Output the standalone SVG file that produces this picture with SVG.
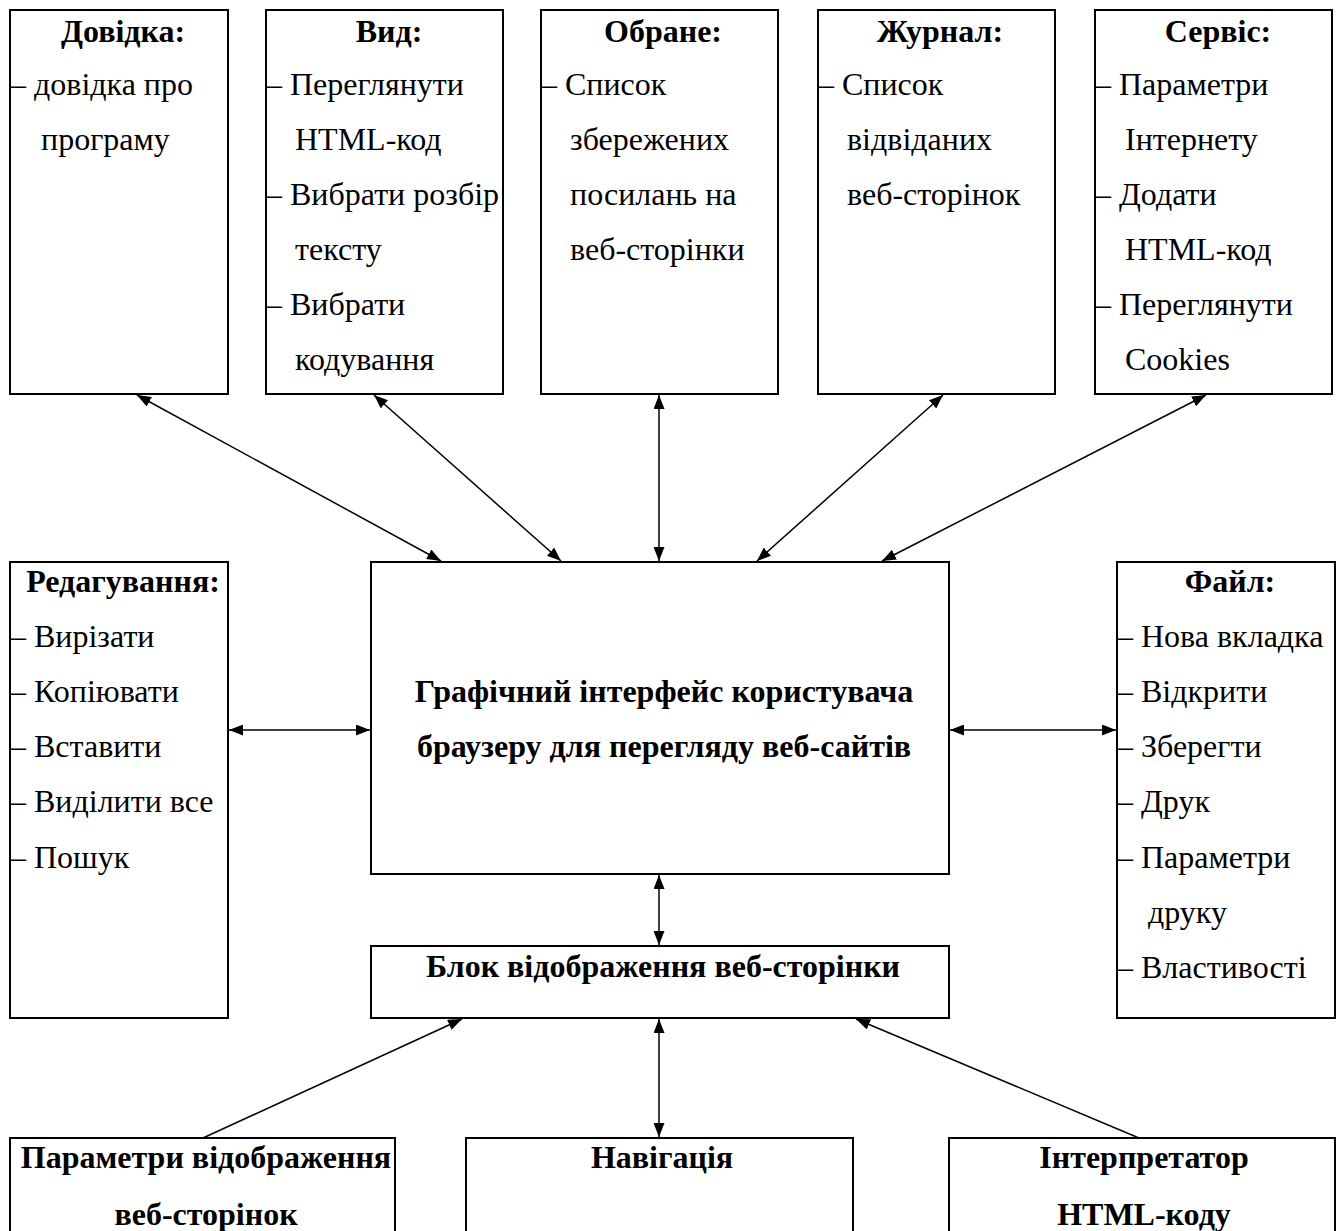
<svg xmlns="http://www.w3.org/2000/svg" width="1338" height="1231" viewBox="0 0 1338 1231">
<style>
.box{fill:#fff;stroke:#000;stroke-width:2}
.t{font-family:"Liberation Serif","Times New Roman",serif;font-size:32px;fill:#000}
.b{font-weight:bold;text-anchor:middle}
.c{stroke:#000;stroke-width:1.5;fill:none}
</style>
<defs>
<marker id="ah" viewBox="0 0 14 11" refX="14" refY="5.5" markerWidth="14" markerHeight="11" markerUnits="userSpaceOnUse" orient="auto-start-reverse">
<path d="M0,0 L14,5.5 L0,11 z" fill="#000"/>
</marker>
</defs>
<rect width="1338" height="1231" fill="#fff"/>

<g id="dovidka">
<rect class="box" x="10" y="10" width="218" height="384"/>
<text class="t b" x="123" y="42">Довідка:</text>
<text class="t" x="10" y="95">– довідка про</text>
<text class="t" x="41" y="150">програму</text>
</g>

<g id="vyd">
<rect class="box" x="266" y="10" width="237" height="384"/>
<text class="t b" x="389" y="42">Вид:</text>
<text class="t" x="266" y="95">– Переглянути</text>
<text class="t" x="295" y="150">HTML-код</text>
<text class="t" x="266" y="205">– Вибрати розбір</text>
<text class="t" x="295" y="260">тексту</text>
<text class="t" x="266" y="315">– Вибрати</text>
<text class="t" x="295" y="370">кодування</text>
</g>

<g id="obrane">
<rect class="box" x="541" y="10" width="237" height="384"/>
<text class="t b" x="663" y="42">Обране:</text>
<text class="t" x="541" y="95">– Список</text>
<text class="t" x="570" y="150">збережених</text>
<text class="t" x="570" y="205">посилань на</text>
<text class="t" x="570" y="260">веб-сторінки</text>
</g>

<g id="zhurnal">
<rect class="box" x="818" y="10" width="237" height="384"/>
<text class="t b" x="940" y="42">Журнал:</text>
<text class="t" x="818" y="95">– Список</text>
<text class="t" x="847" y="150">відвіданих</text>
<text class="t" x="847" y="205">веб-сторінок</text>
</g>

<g id="servis">
<rect class="box" x="1095" y="10" width="237" height="384"/>
<text class="t b" x="1218" y="42">Сервіс:</text>
<text class="t" x="1095" y="95">– Параметри</text>
<text class="t" x="1125" y="150">Інтернету</text>
<text class="t" x="1095" y="205">– Додати</text>
<text class="t" x="1125" y="260">HTML-код</text>
<text class="t" x="1095" y="315">– Переглянути</text>
<text class="t" x="1125" y="370">Cookies</text>
</g>

<g id="redaguvannya">
<rect class="box" x="10" y="562" width="218" height="456"/>
<text class="t b" x="123" y="592">Редагування:</text>
<text class="t" x="10" y="647">– Вирізати</text>
<text class="t" x="10" y="702">– Копіювати</text>
<text class="t" x="10" y="757">– Вставити</text>
<text class="t" x="10" y="812">– Виділити все</text>
<text class="t" x="10" y="868">– Пошук</text>
</g>

<g id="gui">
<rect class="box" x="371" y="562" width="578" height="312"/>
<text class="t b" x="664" y="702">Графічний інтерфейс користувача</text>
<text class="t b" x="664" y="757">браузеру для перегляду веб-сайтів</text>
</g>

<g id="fail">
<rect class="box" x="1117" y="562" width="218" height="456"/>
<text class="t b" x="1230" y="592">Файл:</text>
<text class="t" x="1117" y="647">– Нова вкладка</text>
<text class="t" x="1117" y="702">– Відкрити</text>
<text class="t" x="1117" y="757">– Зберегти</text>
<text class="t" x="1117" y="812">– Друк</text>
<text class="t" x="1117" y="868">– Параметри</text>
<text class="t" x="1148" y="923">друку</text>
<text class="t" x="1117" y="978">– Властивості</text>
</g>

<g id="blok">
<rect class="box" x="371" y="946" width="578" height="72"/>
<text class="t b" x="663" y="977">Блок відображення веб-сторінки</text>
</g>

<g id="parametry">
<rect class="box" x="10" y="1138" width="385" height="110"/>
<text class="t b" x="206" y="1168">Параметри відображення</text>
<text class="t b" x="206" y="1225">веб-сторінок</text>
</g>

<g id="navigatsiya">
<rect class="box" x="466" y="1138" width="387" height="110"/>
<text class="t b" x="662" y="1168">Навігація</text>
</g>

<g id="interpretator">
<rect class="box" x="949" y="1138" width="386" height="110"/>
<text class="t b" x="1144" y="1168">Інтерпретатор</text>
<text class="t b" x="1144" y="1225">HTML-коду</text>
</g>

<g id="connectors">
<line class="c" x1="137" y1="395" x2="441" y2="561" marker-start="url(#ah)" marker-end="url(#ah)"/>
<line class="c" x1="374" y1="395" x2="561" y2="561" marker-start="url(#ah)" marker-end="url(#ah)"/>
<line class="c" x1="659" y1="395" x2="659" y2="561" marker-start="url(#ah)" marker-end="url(#ah)"/>
<line class="c" x1="943" y1="395" x2="757" y2="561" marker-start="url(#ah)" marker-end="url(#ah)"/>
<line class="c" x1="1206" y1="395" x2="882" y2="561" marker-start="url(#ah)" marker-end="url(#ah)"/>
<line class="c" x1="229" y1="730" x2="370" y2="730" marker-start="url(#ah)" marker-end="url(#ah)"/>
<line class="c" x1="950" y1="730" x2="1116" y2="730" marker-start="url(#ah)" marker-end="url(#ah)"/>
<line class="c" x1="659" y1="875" x2="659" y2="945" marker-start="url(#ah)" marker-end="url(#ah)"/>
<line class="c" x1="659" y1="1019" x2="659" y2="1137" marker-start="url(#ah)" marker-end="url(#ah)"/>
<line class="c" x1="203" y1="1138" x2="462" y2="1019" marker-end="url(#ah)"/>
<line class="c" x1="1139" y1="1138" x2="856" y2="1019" marker-end="url(#ah)"/>
</g>
</svg>
